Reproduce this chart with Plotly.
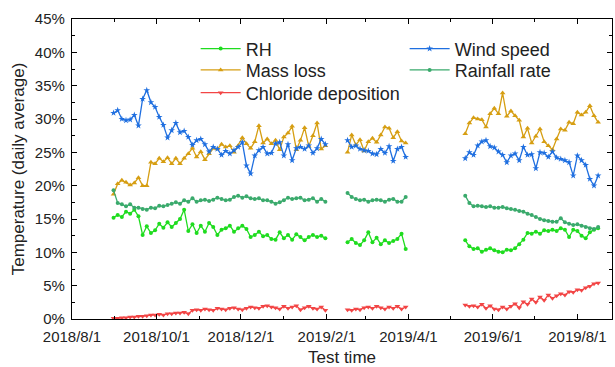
import pandas as pd
import plotly.graph_objects as go

# ---- segment start dates (3-day sampling) ----
seg_starts = ["2018-08-31", "2019-02-16", "2019-05-12"]
seg_step = "3D"

# ---- series values (%), one list per segment ----
rh_1 = [15.2, 15.6, 15.3, 16.1, 15.8, 16.4, 15.4, 12.6, 13.9, 12.9, 13.3, 14.3, 13.7, 14.5, 13.8, 14.4,
        15.0, 16.4, 13.2, 14.2, 12.9, 14.0, 13.1, 14.4, 13.8, 12.6, 13.4, 13.6, 14.0, 13.1, 13.6, 14.0,
        13.5, 12.3, 12.6, 13.1, 12.4, 12.6, 12.0, 11.9, 13.0, 12.1, 12.6, 11.9, 12.7, 12.3, 11.8, 12.3,
        12.6, 12.3, 12.5, 12.1]
rh_2 = [11.5, 12.0, 11.4, 11.1, 11.8, 13.0, 11.5, 12.2, 11.2, 11.8, 11.4, 11.7, 12.0, 12.8, 10.5]
rh_3 = [11.8, 10.9, 10.5, 10.6, 10.1, 10.4, 10.6, 10.3, 10.1, 10.0, 10.4, 10.3, 10.6, 11.2, 11.9, 12.9,
        12.8, 13.1, 12.8, 13.3, 13.2, 13.4, 13.2, 13.6, 13.4, 12.3, 13.4, 13.2, 12.5, 12.1, 13.0, 13.4, 13.6]

mass_1 = [18.7, 20.3, 20.8, 20.5, 20.1, 20.4, 21.2, 20.0, 20.0, 23.5, 23.3, 24.1, 23.6, 24.2, 23.3, 24.1,
          23.3, 24.1, 24.8, 25.6, 24.3, 25.1, 23.9, 24.8, 25.6, 25.5, 26.2, 25.8, 26.0, 25.0, 26.0, 27.2,
          26.3, 25.6, 26.6, 29.0, 26.4, 27.0, 26.3, 26.8, 25.4, 27.3, 27.9, 28.9, 25.4, 26.8, 28.7, 25.9,
          27.5, 29.4, 25.5, 26.0]
mass_2 = [25.0, 27.6, 26.1, 26.9, 25.2, 26.6, 27.1, 26.5, 27.6, 28.8, 28.6, 27.2, 28.1, 26.7, 26.4]
mass_3 = [27.8, 29.4, 30.2, 30.0, 29.9, 28.8, 30.8, 31.6, 30.8, 33.9, 30.4, 31.2, 30.5, 29.8, 27.3, 28.6,
          26.4, 27.4, 28.5, 26.6, 26.0, 25.4, 27.0, 28.5, 28.3, 29.5, 29.3, 31.0, 30.6, 31.0, 32.0, 30.5, 29.5]

chloride_1 = [0.1, 0.1, 0.2, 0.2, 0.3, 0.3, 0.4, 0.4, 0.5, 0.6, 0.6, 0.7, 0.6, 0.8, 0.8, 0.9,
              0.9, 1.0, 0.8, 1.3, 1.4, 1.3, 1.5, 1.4, 1.3, 1.6, 1.5, 1.4, 1.6, 1.7, 1.5, 1.4,
              1.6, 1.8, 1.7, 1.6, 1.9, 2.0, 1.8, 1.7, 1.5, 1.9, 1.6, 1.8, 2.0, 1.4, 1.7, 1.9,
              1.6, 1.5, 1.8, 1.3]
chloride_2 = [1.4, 1.3, 1.5, 1.4, 1.7, 1.8, 1.6, 1.9, 1.7, 1.5, 1.8, 1.6, 1.9, 1.5, 1.8]
chloride_3 = [2.1, 1.9, 2.0, 1.8, 2.2, 1.6, 2.0, 1.5, 1.4, 1.8, 1.5, 1.9, 2.3, 1.7, 2.6, 2.2,
              3.0, 2.5, 3.3, 2.8, 3.6, 3.1, 3.5, 3.8, 3.6, 4.1, 4.0, 4.4, 4.3, 4.7, 4.9, 5.3, 5.4]

wind_1 = [30.9, 31.3, 30.0, 29.8, 29.9, 30.6, 29.0, 33.0, 34.3, 32.5, 31.8, 30.3, 29.1, 27.2, 28.3, 29.4,
          28.0, 28.2, 27.3, 26.1, 26.8, 27.0, 26.2, 25.1, 25.8, 25.5, 24.6, 25.2, 24.8, 25.3, 25.8, 26.5,
          23.0, 21.8, 24.5, 25.3, 25.8, 24.8, 24.9, 26.3, 26.5, 24.5, 26.2, 23.8, 25.6, 25.8, 25.5, 26.0,
          24.9, 25.6, 27.0, 26.2]
wind_2 = [26.8, 25.8, 26.0, 25.5, 25.3, 25.2, 24.8, 24.7, 25.5, 24.9, 25.9, 23.7, 25.5, 25.8, 24.3]
wind_3 = [24.1, 25.0, 24.6, 26.0, 26.6, 26.8, 25.9, 25.7, 25.1, 24.6, 23.5, 24.5, 24.8, 23.8, 25.8, 24.6,
          24.7, 22.6, 25.0, 24.9, 24.3, 25.1, 24.2, 24.0, 23.8, 23.5, 21.5, 24.5, 23.8, 23.1, 21.0, 20.0, 21.5]

rain_1 = [19.3, 17.4, 17.2, 16.9, 17.2, 16.7, 16.7, 16.5, 16.4, 16.7, 16.6, 17.0, 16.9, 17.1, 17.3, 17.5,
          17.3, 17.8, 17.6, 18.1, 17.6, 17.8, 17.9, 17.7, 17.9, 18.2, 18.0, 17.8, 17.9, 18.3, 18.5, 18.2,
          18.4, 18.1, 18.0, 18.1, 17.8, 17.8, 17.6, 17.3, 17.5, 17.8, 18.2, 18.0, 18.1, 18.2, 17.8, 17.9,
          18.1, 17.6, 18.0, 17.6]
rain_2 = [18.9, 18.3, 18.0, 17.8, 17.9, 17.6, 17.8, 17.9, 17.8, 17.6, 17.9, 18.0, 17.6, 17.6, 18.3]
rain_3 = [18.5, 17.4, 16.9, 17.0, 16.9, 16.8, 16.9, 16.7, 16.7, 16.8, 16.6, 16.5, 16.4, 16.2, 16.1, 15.8,
          15.6, 15.3, 15.0, 14.8, 14.7, 14.6, 14.6, 15.1, 14.5, 14.3, 14.1, 14.2, 14.0, 13.8, 13.6, 13.5, 13.8]

# ---- axis tick labels ----
x_tick_vals = ["2018-08-01", "2018-10-01", "2018-12-01", "2019-02-01", "2019-04-01", "2019-06-01", "2019-08-01"]
x_tick_text = ["2018/8/1", "2018/10/1", "2018/12/1", "2019/2/1", "2019/4/1", "2019/6/1", "2019/8/1"]
y_tick_vals = [0, 5, 10, 15, 20, 25, 30, 35, 40, 45]
y_tick_text = ["0%", "5%", "10%", "15%", "20%", "25%", "30%", "35%", "40%", "45%"]
x_range = ["2018-08-01", "2019-08-26"]


def build(segments):
    xs, ys = [], []
    for start, vals in zip(seg_starts, segments):
        dates = pd.date_range(start, periods=len(vals), freq=seg_step)
        if xs:
            xs.append(None)
            ys.append(None)
        xs.extend(list(dates))
        ys.extend(vals)
    return xs, ys


# name, values, colour, marker, size, legend id, legend position (x, y in paper units)
series = [
    ("RH", [rh_1, rh_2, rh_3], "#1fdc1f", "circle", 4, "legend", (0.229, 0.962)),
    ("Mass loss", [mass_1, mass_2, mass_3], "#d69e12", "triangle-up", 5, "legend2", (0.229, 0.891)),
    ("Chloride deposition", [chloride_1, chloride_2, chloride_3], "#f24545", "triangle-down", 5, "legend3", (0.229, 0.815)),
    ("Wind speed", [wind_1, wind_2, wind_3], "#1f6fe0", "star", 5, "legend4", (0.616, 0.962)),
    ("Rainfall rate", [rain_1, rain_2, rain_3], "#3aaa6c", "circle", 4, "legend5", (0.616, 0.891)),
]

font_family = "Liberation Sans, Arial, sans-serif"

fig = go.Figure()
legend_layouts = {}
for name, segs, color, sym, size, leg, pos in series:
    x, y = build(segs)
    fig.add_trace(go.Scatter(
        x=x, y=y, name=name, mode="lines+markers", connectgaps=False,
        line=dict(color=color, width=1.3),
        marker=dict(symbol=sym, size=size, color=color),
        legend=leg, showlegend=True,
    ))
    legend_layouts[leg] = dict(
        x=pos[0], y=pos[1], xanchor="left", yanchor="top", bgcolor="rgba(0,0,0,0)",
        font=dict(family=font_family, size=18, color="#222"), itemwidth=40,
    )

axis_common = dict(
    showline=True, linecolor="black", linewidth=1.3, mirror="ticks",
    ticks="inside", ticklen=5, tickwidth=1.2, tickcolor="black",
    showgrid=False, zeroline=False,
    tickfont=dict(family=font_family, size=15, color="#222"),
)

fig.update_layout(
    width=615, height=367,
    margin=dict(l=72, r=3, t=19, b=48),
    paper_bgcolor="white", plot_bgcolor="white",
    showlegend=True,
    font=dict(family=font_family, color="#222"),
    xaxis=dict(
        type="date", range=x_range, tickvals=x_tick_vals, ticktext=x_tick_text,
        ticklabelstandoff=4,
        minor=dict(dtick="M1", tick0="2018-08-01", ticks="inside", ticklen=3, tickcolor="black"),
        title=dict(text="Test time", font=dict(family=font_family, size=17, color="#222"), standoff=6),
        **axis_common,
    ),
    yaxis=dict(
        range=[0, 45], tickvals=y_tick_vals, ticktext=y_tick_text,
        ticklabelstandoff=3,
        minor=dict(dtick=2.5, ticks="inside", ticklen=3, tickcolor="black"),
        title=dict(text="Temperature (daily average)", font=dict(family=font_family, size=17, color="#222"), standoff=5),
        **axis_common,
    ),
    **legend_layouts,
)

fig.write_html("out.html")
